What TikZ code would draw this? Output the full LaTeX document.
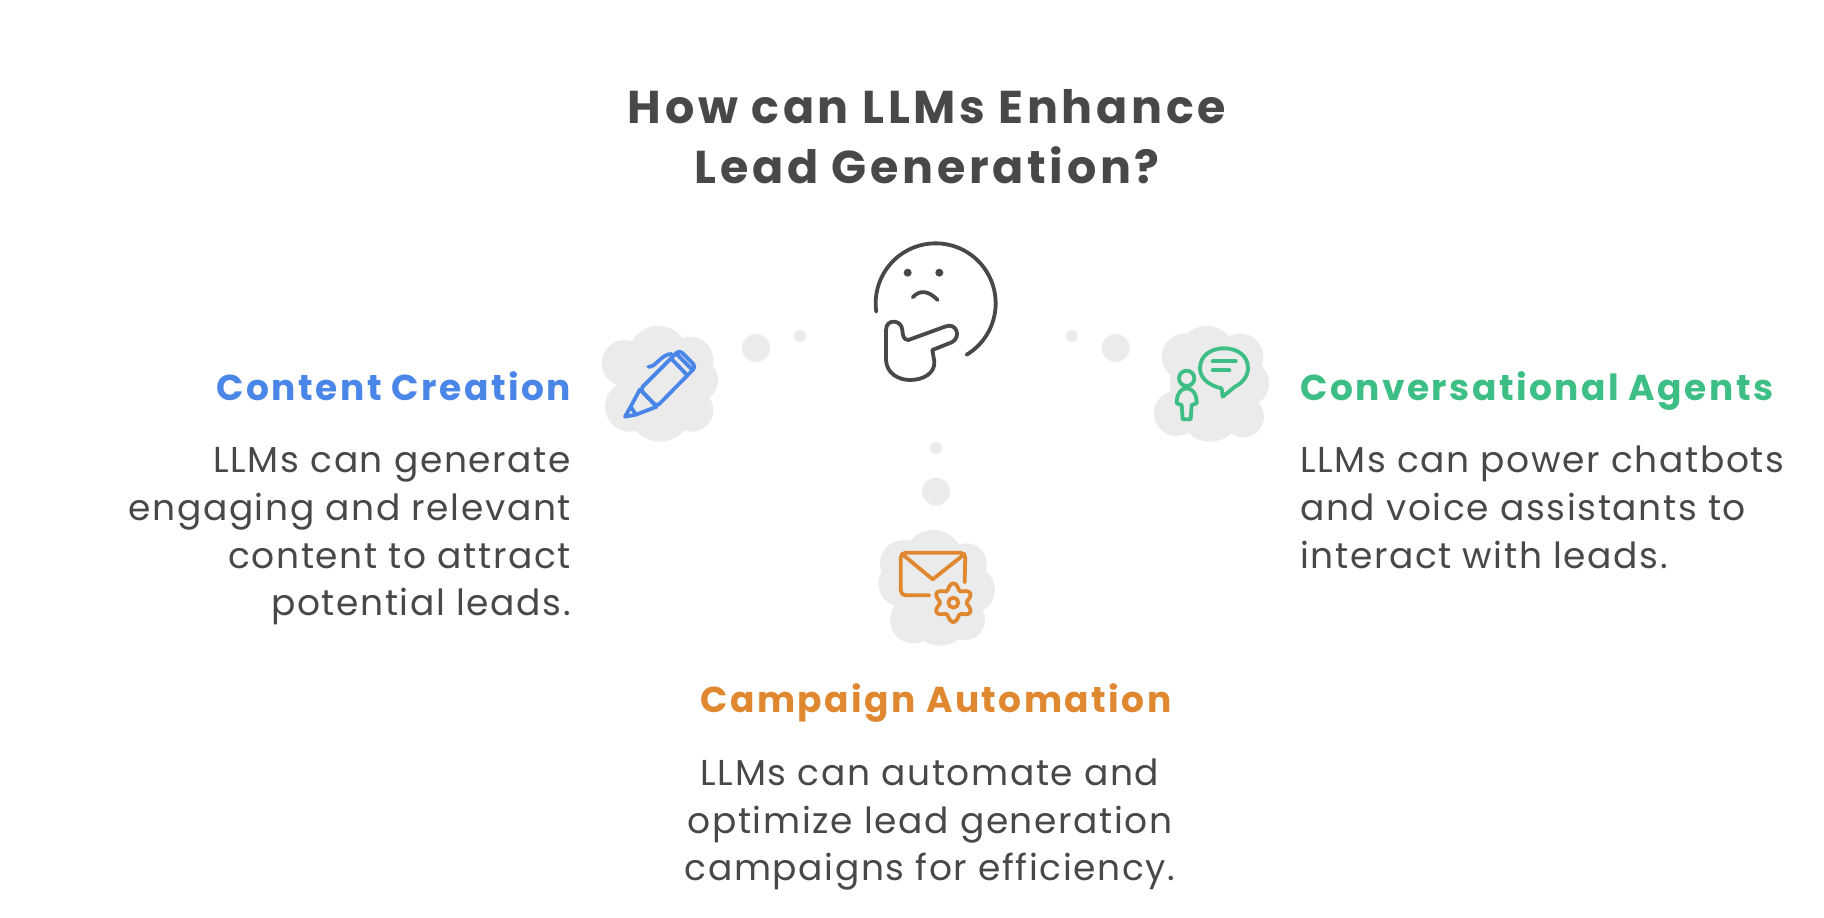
\documentclass[tikz,border=0pt]{standalone}
\usepackage{fontspec}
\setmainfont{Poppins}
\newfontfamily\titlefont[LetterSpace=8]{Poppins}
\newfontfamily\headfont[LetterSpace=6.8]{Poppins}
\newfontfamily\bodyfont[LetterSpace=4.5]{Poppins}
\definecolor{inkgray}{RGB}{72,72,72}
\definecolor{cloudgray}{RGB}{235,235,235}
\definecolor{penblue}{RGB}{74,134,232}
\definecolor{mailorange}{RGB}{224,136,48}
\definecolor{chatgreen}{RGB}{60,190,132}
\tikzset{
  icon/.style={
    line width=3.8pt,
    line cap=round,
    line join=round
  },
  title-text/.style={text=inkgray, font=\titlefont\fontsize{46}{60}\selectfont\bfseries, align=center, inner sep=0pt},
  head-text/.style={font=\headfont\fontsize{36}{46}\selectfont\bfseries, inner sep=0pt},
  body-text/.style={text=inkgray, font=\bodyfont\fontsize{36}{48}\selectfont, inner sep=0pt},
  zoomed/.style={shift={(#1)}, scale=1/3}
}
\newcommand{\cloudblob}[1]{
  \foreach \cx/\cy/\cr in {#1}
    \fill[cloudgray] (\cx,\cy) circle (\cr);
}
\begin{document}
\begin{tikzpicture}[x=1pt, y=-1pt]
  \useasboundingbox (0,0) rectangle (1824,918);
  % Title
  \node[title-text] (title) at (927,137) {How can LLMs Enhance\\Lead Generation?};
  % Thinking face
  \begin{scope}[zoomed={840,220}, icon, draw=inkgray]
    \draw plot[domain=172:419, samples=80] ({287+180*cos(\x)}, {250+180*sin(\x)});
    \fill[inkgray] (203,158) circle (12);
    \fill[inkgray] (298,158) circle (12);
    \draw (218,232) .. controls (240,208) and (265,212) .. (293,240);
    \draw (205,360) .. controls (190,360) and (188,345) .. (187,330)
      .. controls (185,298) and (138,295) .. (138,330) -- (138,420)
      .. controls (140,460) and (175,480) .. (210,480)
      .. controls (250,480) and (285,460) .. (283,425) -- (277,390) -- (335,367)
      .. controls (365,352) and (350,305) .. (315,320) -- cycle;
  \end{scope}
  % Thought dots
  \fill[cloudgray] (756,348) circle (14) (800,336) circle (6);
  \fill[cloudgray] (1115.7,348) circle (14) (1071.7,336) circle (6);
  \fill[cloudgray] (936,491.7) circle (14) (936,448) circle (6);
  % Pen
  \begin{scope}[zoomed={580,220}]
    \cloudblob{235/410/92, 135/430/70, 330/420/70, 350/480/65, 150/560/75, 240/570/95, 335/570/65, 240/490/120}
    \begin{scope}[icon, draw=penblue]
      \draw (205,440) .. controls (225,445) and (245,400) .. (275,402);
      \draw[rounded corners=4pt] (180,508) -- (298,390) -- (348,440) -- (230,560) -- cycle;
      \draw (272,414) -- (322,466);
      \draw (180,508) -- (230,560);
      \draw (180,508) -- (152,560) -- (135,590) -- (168,584) -- (230,560);
      \draw (152,560) -- (168,584);
      \draw (290,402) -- (338,450);
    \end{scope}
  \end{scope}
  % Chat
  \begin{scope}[zoomed={840,220}]
    \cloudblob{1100/405/87, 1035/410/70, 1200/410/70, 1220/490/68, 1010/580/68, 1110/570/95, 1210/590/62, 1115/490/125}
    \begin{scope}[icon, draw=chatgreen]
      \draw (1145,505) .. controls (1100,495) and (1080,470) .. (1080,445)
        .. controls (1080,405) and (1115,385) .. (1152,385)
        .. controls (1190,385) and (1224,405) .. (1224,445)
        .. controls (1224,470) and (1205,490) .. (1185,500) -- (1148,530) -- cycle;
      \draw (1118,424) -- (1187,424);
      \draw (1118,451) -- (1168,451);
      \draw (1040,475) circle (23);
      \draw (1040,505) .. controls (1020,505) and (1010,525) .. (1010,550)
        -- (1025,555) -- (1028,598) -- (1052,598) -- (1055,555) -- (1070,550)
        .. controls (1070,525) and (1060,505) .. (1040,505) -- cycle;
    \end{scope}
  \end{scope}
  % Mail
  \begin{scope}[zoomed={840,420}]
    \cloudblob{280/420/90, 190/430/70, 380/430/60, 395/510/70, 185/490/70, 220/600/70, 300/585/92, 375/600/60, 290/505/125}
    \begin{scope}[icon, draw=mailorange]
      \draw[rounded corners=5pt] (268,526) -- (182,526) -- (182,398) -- (376,398) -- (374,487);
      \draw (186,402) -- (278,478) -- (374,402);
      \draw plot[domain=0:360, samples=73, smooth] ({340+(49-9*cos(6*\x))*cos(\x)}, {548+(49-9*cos(6*\x))*sin(\x)});
      \draw (340,548) circle (15);
    \end{scope}
  \end{scope}
  % Labels
  \node[head-text, text=penblue, anchor=base east] (penhead) at (571,400) {Content Creation};
  \node[body-text, anchor=base east] (penline1) at (571,472) {LLMs can generate};
  \node[body-text, anchor=base east] (penline2) at (571,520) {engaging and relevant};
  \node[body-text, anchor=base east] (penline3) at (571,568) {content to attract};
  \node[body-text, anchor=base east] (penline4) at (571,615) {potential leads.};
  \node[head-text, text=chatgreen, anchor=base west] (chathead) at (1300,400) {Conversational Agents};
  \node[body-text, anchor=base west] (chatline1) at (1300,472) {LLMs can power chatbots};
  \node[body-text, anchor=base west] (chatline2) at (1300,520) {and voice assistants to};
  \node[body-text, anchor=base west] (chatline3) at (1300,568) {interact with leads.};
  \node[head-text, text=mailorange, anchor=base] (mailhead) at (936,712) {Campaign Automation};
  \node[body-text, anchor=base] (mailline1) at (930,785) {LLMs can automate and};
  \node[body-text, anchor=base] (mailline2) at (930,833) {optimize lead generation};
  \node[body-text, anchor=base] (mailline3) at (930,880) {campaigns for efficiency.};
\end{tikzpicture}
\end{document}
